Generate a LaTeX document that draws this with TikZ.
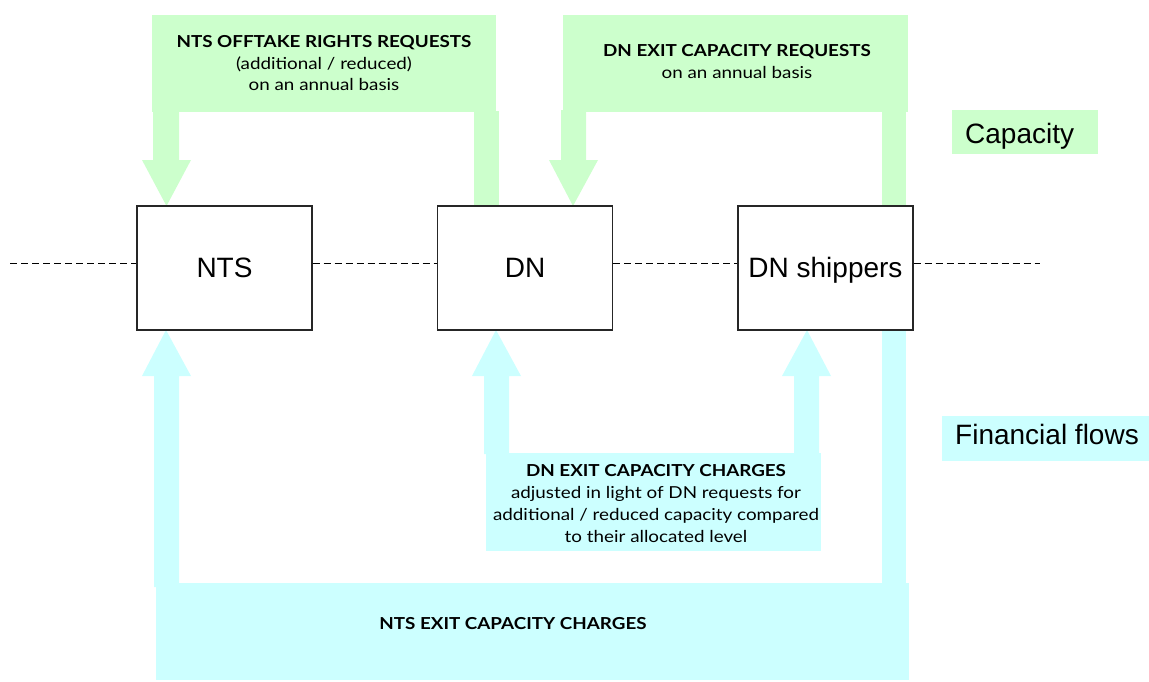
\documentclass[tikz,border=0pt]{standalone}
\usepackage{fontspec}
\setmainfont{Liberation Sans}
\newfontfamily\notefont{Lato}[FakeStretch=1.14]
\definecolor{capgreen}{HTML}{CCFFCC}
\definecolor{fincyan}{HTML}{CCFFFF}
\begin{document}
\begin{tikzpicture}[x=1pt,y=-1pt,
  capfill/.style={fill=capgreen},
  finfill/.style={fill=fincyan},
  unit/.style={draw=black!85, line width=1.2pt, fill=white, minimum width=175pt,
    minimum height=124pt, inner sep=0pt, text height=19.5pt, text depth=0pt,
    font=\fontsize{28}{30}\selectfont},
  keytext/.style={anchor=base west, inner sep=0pt, font=\fontsize{28}{30}\selectfont},
  hd/.style={anchor=base, inner sep=0pt, font=\notefont\bfseries\fontsize{16.5}{19}\selectfont},
  ln/.style={anchor=base, inner sep=0pt, font=\notefont\fontsize{16.5}{19}\selectfont},
  axis/.style={dash pattern=on 7pt off 4pt, line width=0.9pt}
]
\useasboundingbox (0,0) rectangle (1149,681);

% capacity requests (green)
\fill[capfill] (152,15) rectangle (496,112);
\fill[capfill] (153,111) -- (179,111) -- (179,160) -- (191,160) -- (166.5,206)
  -- (142,160) -- (153,160) -- cycle;
\fill[capfill] (474,111) rectangle (499,206);
\fill[capfill] (563,15) rectangle (908,112);
\fill[capfill] (561,110) -- (586,110) -- (586,160) -- (598,160) -- (573,206)
  -- (549,160) -- (561,160) -- cycle;
\fill[capfill] (882,111) rectangle (906,206);

% financial flows (cyan)
\fill[finfill] (166,330) -- (191,376) -- (179,376) -- (179,587) -- (154,587)
  -- (154,376) -- (142,376) -- cycle;
\fill[finfill] (156,583) rectangle (909,680);
\fill[finfill] (496,330) -- (521,376) -- (509,376) -- (509,454) -- (484,454)
  -- (484,376) -- (472,376) -- cycle;
\fill[finfill] (807,330) -- (831,376) -- (819,376) -- (819,454) -- (794,454)
  -- (794,376) -- (782,376) -- cycle;
\fill[finfill] (486,453) rectangle (821,551);
\fill[finfill] (882,330) rectangle (906,584);

% legend
\fill[capfill] (952,110) rectangle (1098,154);
\node[keytext] (capkey) at (965,143) {Capacity};
\fill[finfill] (942,416) rectangle (1149,461);
\node[keytext] (finkey) at (955,444.5) {Financial flows};

% parties
\node[unit] (nts) at (224.5,268) {NTS};
\node[unit] (dn)  at (525,268) {DN};
\node[unit] (dns) at (825.5,268) {DN shippers};

% dashed axis through the parties
\coordinate (lend) at (10,263);
\coordinate (rend) at (1040,263);
\draw[axis] (lend) -- (lend -| nts.west);
\draw[axis] (nts.east |- lend) -- (dn.west |- lend);
\draw[axis] (dn.east |- lend) -- (dns.west |- lend);
\draw[axis] (dns.east |- lend) -- (rend);

% flow labels
\node[hd] (ra) at (324,47.7) {NTS OFFTAKE RIGHTS REQUESTS};
\node[ln] (rb) at (324,69) {(additional / reduced)};
\node[ln] (rc) at (324,90.7) {on an annual basis};

\node[hd] (qa) at (737,56.7) {DN EXIT CAPACITY REQUESTS};
\node[ln] (qb) at (737,78) {on an annual basis};

\node[hd] (ca) at (656,476.7) {DN EXIT CAPACITY CHARGES};
\node[ln] (cb) at (656,498.5) {adjusted in light of DN requests for};
\node[ln] (cc) at (656,520.5) {additional / reduced capacity compared};
\node[ln] (cd) at (656,542) {to their allocated level};

\node[hd] (na) at (513,629) {NTS EXIT CAPACITY CHARGES};
\end{tikzpicture}
\end{document}
